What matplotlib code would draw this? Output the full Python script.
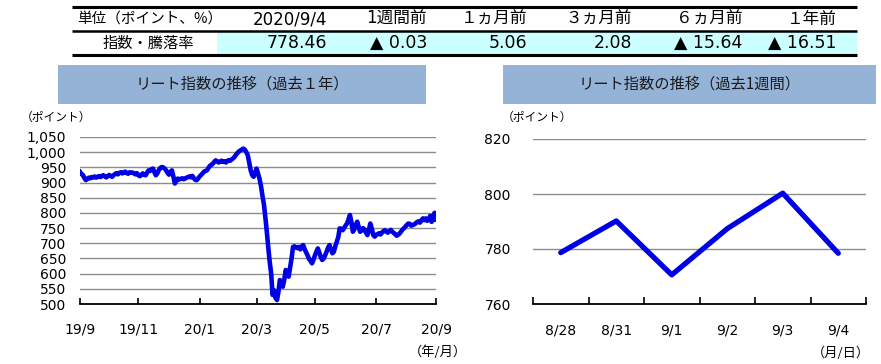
import matplotlib
matplotlib.use("Agg")
import matplotlib.pyplot as plt
from matplotlib.lines import Line2D
from matplotlib.patches import Rectangle
from matplotlib.ticker import FuncFormatter, FixedLocator

W, H = 881, 364
JP = ['Noto Sans CJK JP', 'DejaVu Sans']
NUM = ['DejaVu Sans', 'Noto Sans CJK JP']

# ---------------- data ----------------
table_headers = ["単位（ポイント、%）", "2020/9/4", "1週間前", "１ヵ月前", "３ヵ月前", "６ヵ月前", "１年前"]
table_row_label = "指数・騰落率"
table_values = ["778.46", "▲ 0.03", "5.06", "2.08", "▲ 15.64", "▲ 16.51"]

year_values = [
    935, 928, 925, 915, 908, 912, 916, 914, 918, 917,
    920, 916, 919, 921, 918, 922, 924, 920, 917, 921,
    925, 922, 919, 924, 928, 931, 927, 932, 934, 930,
    933, 936, 931, 929, 934, 932, 933, 930, 927, 931,
    924, 921, 926, 930, 925, 924, 933, 940, 938, 944,
    946, 934, 924, 930, 941, 948, 951, 950, 946, 940,
    932, 926, 935, 940, 920, 897, 905, 913, 910, 912,
    914, 911, 913, 916, 918, 920, 917, 922, 915, 909,
    908, 914, 920, 925, 930, 936, 938, 940, 948, 955,
    958, 962, 968, 973, 970, 966, 969, 972, 968, 970,
    966, 971, 974, 972, 976, 980, 985, 992, 998, 1003,
    1006, 1009, 1012, 1008, 1000, 990, 965, 940, 925, 919,
    932, 946, 930, 913, 890, 858, 830, 787, 740, 688,
    640, 601, 530, 545, 520, 513, 540, 579, 565, 557,
    580, 612, 600, 590, 620, 650, 688, 690, 686, 684,
    688, 680, 690, 694, 680, 670, 660, 648, 642, 634,
    645, 660, 672, 683, 670, 655, 645, 650, 660, 672,
    685, 694, 680, 667, 672, 690, 705, 720, 749, 748,
    743, 750, 758, 765, 778, 793, 770, 738, 745, 760,
    771, 755, 738, 742, 750, 745, 735, 727, 745, 765,
    748, 727, 722, 728, 730, 733, 729, 735, 740, 743,
    738, 735, 740, 744, 738, 734, 730, 725, 728, 732,
    738, 745, 749, 755, 760, 765, 764, 758, 760, 762,
    765, 770, 772, 768, 775, 782, 776, 782, 774, 778.69,
    790.2, 770.6, 787.4, 800.3, 778.46,
]
year_tick_idx = [0, 40, 82, 121, 161, 203, 244]
year_tick_labels = ["19/9", "19/11", "20/1", "20/3", "20/5", "20/7", "20/9"]
year_yticks = [500, 550, 600, 650, 700, 750, 800, 850, 900, 950, 1000, 1050]

week_labels = ["8/28", "8/31", "9/1", "9/2", "9/3", "9/4"]
week_values = [778.69, 790.2, 770.6, 787.4, 800.3, 778.46]
week_yticks = [760, 780, 800, 820]

LINE_COLOR = '#0000e6'
BOX_COLOR = '#95b3d7'
GRID_COLOR = '#8c8c8c'

fig = plt.figure(figsize=(W / 100, H / 100), dpi=100)
fig.patch.set_facecolor('white')


def fx(x):
    return x / W


def fy(y):
    return 1 - y / H


def hline(x0, x1, y, lw):
    fig.add_artist(Line2D([fx(x0), fx(x1)], [fy(y), fy(y)], transform=fig.transFigure,
                          color='black', lw=lw, solid_capstyle='butt'))


# ---------------- table ----------------
fig.add_artist(Rectangle((fx(217), fy(55)), fx(857) - fx(217), fy(31) - fy(55),
                         transform=fig.transFigure, facecolor='#ccffff', edgecolor='none'))
hline(72, 857, 7, 2.2)
hline(72, 857, 31, 1.8)
hline(72, 857, 55, 2.2)

col_right = [327, 427, 527, 632, 742, 837]
fig.text(fx(77), fy(19), table_headers[0], ha='left', va='center', fontsize=10.5, family=JP)
for xr, t in zip(col_right, table_headers[1:]):
    fig.text(fx(xr), fy(19), t, ha='right', va='center', fontsize=12, family=NUM)
fig.text(fx(148), fy(43), table_row_label, ha='center', va='center', fontsize=11, family=JP)
for xr, t in zip(col_right, table_values):
    fig.text(fx(xr), fy(43), t, ha='right', va='center', fontsize=12.5, family=NUM)


# ---------------- title boxes ----------------
def title_box(x0, x1, y0, y1, text):
    fig.add_artist(Rectangle((fx(x0), fy(y1)), fx(x1) - fx(x0), fy(y0) - fy(y1),
                             transform=fig.transFigure, facecolor=BOX_COLOR, edgecolor='none'))
    fig.text(fx((x0 + x1) / 2), fy((y0 + y1) / 2), text, ha='center', va='center',
             fontsize=11, family=JP, color='#1a1a1a')


title_box(58, 426, 65, 104, "リート指数の推移（過去１年）")
title_box(503, 876, 65, 104, "リート指数の推移（過去1週間）")


def style_axes(ax):
    for s in ['left', 'top', 'right']:
        ax.spines[s].set_visible(False)
    ax.spines['bottom'].set_color('black')
    ax.spines['bottom'].set_linewidth(1.3)
    ax.tick_params(axis='y', length=0, labelsize=10, pad=10)
    ax.yaxis.grid(True, color=GRID_COLOR, lw=1.0)
    ax.set_axisbelow(True)
    ax.set_facecolor('none')


# ---------------- left chart ----------------
ax1 = fig.add_axes([fx(80), fy(304), fx(436) - fx(80), fy(137) - fy(304)])
style_axes(ax1)
ax1.plot(range(len(year_values)), year_values, color=LINE_COLOR, lw=3.3, solid_joinstyle='round')
ax1.set_xlim(0, len(year_values) - 1)
ax1.set_ylim(500, 1050)
ax1.set_yticks(year_yticks)
ax1.yaxis.set_major_formatter(FuncFormatter(lambda v, p: f"{int(v):,}"))
ax1.set_xticks(year_tick_idx)
ax1.set_xticklabels(year_tick_labels, fontsize=10)
ax1.tick_params(axis='x', direction='in', length=4, width=1.2, pad=13)
for lab in ax1.get_yticklabels():
    lab.set_family('DejaVu Sans')
ax1.get_ygridlines()[0].set_visible(False)
fig.text(fx(21), fy(117), "（ポイント）", ha='left', va='center', fontsize=8.5, family=JP)
fig.text(fx(467), fy(352), "（年/月）", ha='right', va='center', fontsize=9.5, family=JP)

# ---------------- right chart ----------------
ax2 = fig.add_axes([fx(533), fy(304), fx(866) - fx(533), fy(139) - fy(304)])
style_axes(ax2)
xs = list(range(len(week_values)))
ax2.plot(xs, week_values, color=LINE_COLOR, lw=3.8, solid_joinstyle='round', solid_capstyle='round')
ax2.set_xlim(-0.5, len(week_values) - 0.5)
ax2.set_ylim(760, 820)
ax2.set_yticks(week_yticks)
ax2.get_ygridlines()[0].set_visible(False)
ax2.xaxis.set_major_locator(FixedLocator([i - 0.5 for i in range(len(week_values) + 1)]))
ax2.xaxis.set_major_formatter(FuncFormatter(lambda v, p: ""))
ax2.xaxis.set_minor_locator(FixedLocator(xs))
ax2.set_xticklabels(week_labels, minor=True, fontsize=10)
ax2.tick_params(axis='x', which='major', direction='in', length=5, width=1.2)
ax2.tick_params(axis='x', which='minor', length=0, pad=14)
ax2.tick_params(axis='y', pad=16)
fig.text(fx(502), fy(117), "（ポイント）", ha='left', va='center', fontsize=8.5, family=JP)
fig.text(fx(870), fy(353), "（月/日）", ha='right', va='center', fontsize=9.5, family=JP)

fig.savefig("out.png", dpi=100)
